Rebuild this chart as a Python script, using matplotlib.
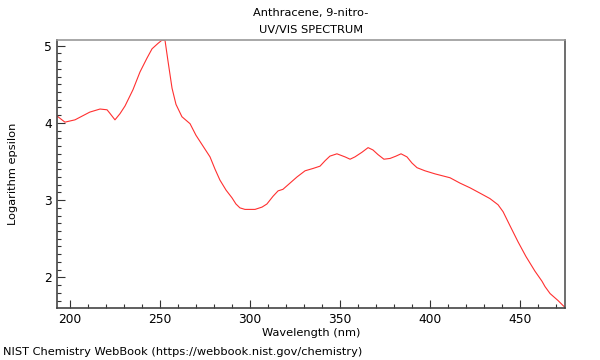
import numpy as np
import matplotlib
matplotlib.use('Agg')
import matplotlib.pyplot as plt
from matplotlib.ticker import MultipleLocator

# wavelength (nm) and log epsilon
wavelength = [192.8, 197.2, 202.8, 211.0, 216.7, 220.6, 222.0, 225.0, 227.8, 230.6,
              235.0, 238.9, 242.8, 245.6, 248.9, 251.0, 252.8, 254.4, 256.7, 258.9,
              262.2, 266.7, 270.0, 273.9, 277.8, 280.6, 283.3, 286.7, 290.0, 292.2,
              294.4, 297.2, 302.8, 306.7, 309.4, 312.8, 315.6, 318.3, 322.2, 326.1,
              330.6, 335.0, 338.9, 341.7, 344.4, 348.3, 352.8, 355.6, 358.3, 362.2,
              365.6, 368.3, 371.1, 374.4, 377.8, 381.1, 383.9, 387.2, 390.0, 392.8,
              397.2, 402.8, 411.1, 416.7, 422.2, 427.8, 433.3, 437.8, 440.6, 444.4,
              448.9, 453.3, 458.3, 462.2, 463.9, 466.7, 471.1, 475.0]
log_eps = [4.09, 4.01, 4.04, 4.14, 4.18, 4.17, 4.13, 4.04, 4.12, 4.22,
           4.43, 4.66, 4.84, 4.96, 5.03, 5.07, 5.07, 4.81, 4.45, 4.24,
           4.08, 3.99, 3.84, 3.70, 3.56, 3.40, 3.26, 3.13, 3.03, 2.95,
           2.90, 2.88, 2.88, 2.91, 2.95, 3.05, 3.12, 3.14, 3.22, 3.30,
           3.38, 3.41, 3.44, 3.51, 3.57, 3.60, 3.56, 3.53, 3.56, 3.62,
           3.68, 3.65, 3.59, 3.53, 3.54, 3.57, 3.60, 3.56, 3.48, 3.42,
           3.38, 3.34, 3.29, 3.22, 3.16, 3.09, 3.02, 2.94, 2.85, 2.67,
           2.46, 2.27, 2.08, 1.95, 1.88, 1.79, 1.70, 1.61]

fig = plt.figure(figsize=(6, 3.6), dpi=100)
ax = fig.add_axes([0.095, 0.1453, 0.8467, 0.7436])
ax.plot(wavelength, log_eps, color='#ff3030', lw=0.8)
ax.set_xlim(192.8, 475)
ax.set_ylim(1.607, 5.074)

ax.xaxis.set_major_locator(MultipleLocator(50))
ax.xaxis.set_minor_locator(MultipleLocator(10))
ax.yaxis.set_major_locator(MultipleLocator(1))
ax.yaxis.set_minor_locator(MultipleLocator(0.1))
ax.tick_params(which='both', direction='in', top=False, right=False,
               labelsize=8.8, color='#333333')
ax.tick_params(which='major', length=6, width=0.8)
ax.tick_params(which='minor', length=3, width=0.8)
for s in ['left', 'bottom']:
    ax.spines[s].set_color('#444444')
    ax.spines[s].set_linewidth(1.2)
ax.spines['top'].set_color('#999999')
ax.spines['top'].set_linewidth(1.2)
ax.spines['right'].set_color('#555555')
ax.spines['right'].set_linewidth(1.2)

ax.set_xlabel('Wavelength (nm)', fontsize=8.2, labelpad=2)
ax.set_ylabel('Logarithm epsilon', fontsize=8.2, labelpad=19)
fig.text(0.518, 0.965, 'Anthracene, 9-nitro-', ha='center', va='center', fontsize=8.2)
fig.text(0.518, 0.917, 'UV/VIS SPECTRUM', ha='center', va='center', fontsize=8.2)
fig.text(0.005, 0.022, 'NIST Chemistry WebBook (https://webbook.nist.gov/chemistry)',
         ha='left', va='center', fontsize=8.2)

plt.savefig('out.png', dpi=100)
plt.close()
